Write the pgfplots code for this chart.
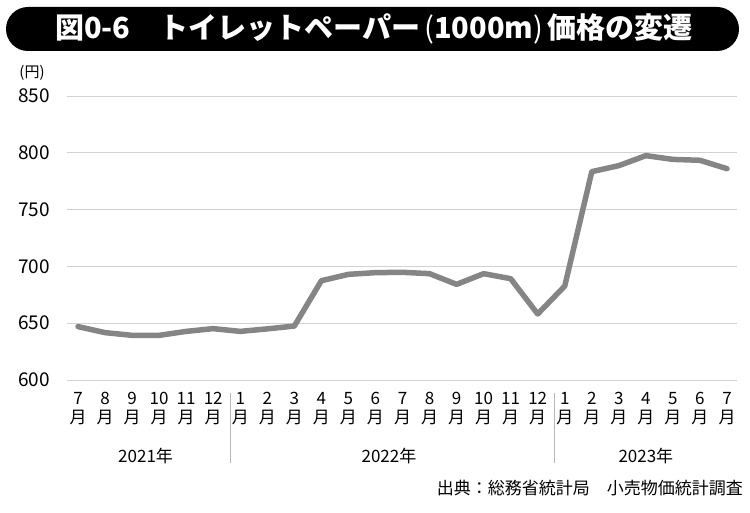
\documentclass[border=0pt]{standalone}
\usepackage{fontspec}
\setmainfont{Noto Sans CJK JP}
\usepackage{pgfplots}
\pgfplotsset{compat=1.18}
\definecolor{linegray}{HTML}{858585}
\definecolor{gridgray}{HTML}{D2D2D2}
\definecolor{sepgray}{HTML}{B8B8B8}
\begin{document}
\begin{tikzpicture}[x=1pt,y=1pt]
\useasboundingbox (0,0) rectangle (750,512);
% title bar
\fill[black,rounded corners=22pt] (6,461) rectangle (739,505);
\node[anchor=west,text=white,font=\bfseries\fontsize{29}{29}\selectfont,inner sep=0pt] at (55,483) {図0-6　トイレットペーパー\kern4pt{\mdseries(}1000m{\mdseries)}\kern4pt 価格の変遷};
\node[font=\fontsize{15}{15}\selectfont,inner sep=0pt] at (32,439) {(円)};
\begin{axis}[
  at={(67pt,132pt)}, anchor=south west,
  width=670pt, height=284pt, scale only axis,
  xmin=-0.407, xmax=24.37, ymin=600, ymax=850,
  ytick={600,650,700,750,800,850},
  ymajorgrids,
  major grid style={draw=gridgray,line width=1pt},
  axis line style={draw=none},
  tick style={draw=none},
  clip=false,
  xtick={0,1,...,24},
  xticklabels={{7\\月},{8\\月},{9\\月},{10\\月},{11\\月},{12\\月},{1\\月},{2\\月},{3\\月},{4\\月},{5\\月},{6\\月},{7\\月},{8\\月},{9\\月},{10\\月},{11\\月},{12\\月},{1\\月},{2\\月},{3\\月},{4\\月},{5\\月},{6\\月},{7\\月}},
  xticklabel style={align=center,font=\fontsize{17}{19}\selectfont,inner sep=0pt,yshift=-12pt},
  yticklabel style={font=\fontsize{19}{19}\selectfont,inner sep=0pt,xshift=-17pt},
  /pgf/number format/assume math mode=true,
]
\addplot[linegray,line width=5.5pt,line join=round,line cap=round] coordinates {
(0,647) (1,641.7) (2,639.3) (3,639.3) (4,642.8) (5,645.2) (6,642.8) (7,645) (8,647.5)
(9,687.4) (10,693) (11,694.5) (12,694.8) (13,693.6) (14,684.2) (15,693.6) (16,689.2)
(17,658.1) (18,682.7) (19,783.4) (20,788.7) (21,797.5) (22,794.2) (23,793.4) (24,786)
};
\draw[sepgray,line width=0.8pt] ([yshift=-13pt]axis cs:5.62,600) -- ([yshift=-83pt]axis cs:5.62,600);
\draw[sepgray,line width=0.8pt] ([yshift=-13pt]axis cs:17.62,600) -- ([yshift=-83pt]axis cs:17.62,600);
\node[font=\fontsize{17}{17}\selectfont] at ([yshift=-76pt]axis cs:2.5,600) {2021年};
\node[font=\fontsize{17}{17}\selectfont] at ([yshift=-76pt]axis cs:11.5,600) {2022年};
\node[font=\fontsize{17}{17}\selectfont] at ([yshift=-76pt]axis cs:21,600) {2023年};
\end{axis}
\node[anchor=east,font=\fontsize{17}{17}\selectfont,inner sep=0pt] at (743,24) {出典：総務省統計局　小売物価統計調査};
\end{tikzpicture}
\end{document}
